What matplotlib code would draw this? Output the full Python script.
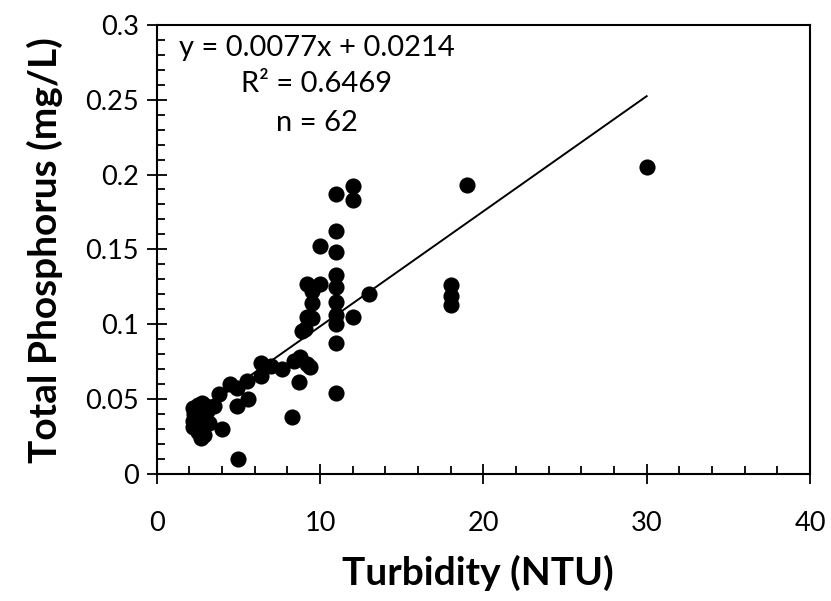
import numpy as np
import matplotlib
matplotlib.use('Agg')
import matplotlib.pyplot as plt
from matplotlib.ticker import MultipleLocator

plt.rcParams['font.family'] = ['Lato', 'DejaVu Sans']

# turbidity (NTU) vs total phosphorus (mg/L)
turbidity = [30, 19, 18, 18, 18, 13, 12, 12, 12,
             11, 11, 11, 11, 11, 11, 11, 11, 11, 11,
             10, 10,
             9.2, 9.5, 9.5, 9.2, 9.5, 9.1, 8.9,
             8.8, 9.2, 8.4, 9.4, 8.7, 8.3,
             7.7, 7.0, 6.4, 6.4,
             4.5, 4.9, 5.5, 5.6, 4.9, 5.0,
             3.8, 4.0,
             2.2, 2.5, 2.8, 3.0, 3.5, 2.3, 2.6, 3.1,
             2.2, 2.5, 2.9, 3.2, 2.2, 2.5, 2.7, 2.9]
phosphorus = [0.205, 0.193, 0.126, 0.119, 0.113, 0.120, 0.192, 0.183, 0.105,
              0.187, 0.162, 0.148, 0.133, 0.125, 0.115, 0.106, 0.100, 0.087, 0.054,
              0.152, 0.127,
              0.127, 0.122, 0.114, 0.105, 0.104, 0.097, 0.095,
              0.078, 0.073, 0.075, 0.071, 0.061, 0.038,
              0.070, 0.072, 0.074, 0.065,
              0.060, 0.057, 0.062, 0.050, 0.045, 0.010,
              0.053, 0.030,
              0.044, 0.046, 0.047, 0.045, 0.045, 0.040, 0.041, 0.042,
              0.035, 0.036, 0.037, 0.034, 0.031, 0.028, 0.024, 0.026]

slope = 0.0077
intercept = 0.0214
r2 = 0.6469

fig = plt.figure(figsize=(8.31, 6.01), dpi=100)
ax = fig.add_axes([0.1886, 0.2121, 0.7861, 0.7463])

ax.scatter(turbidity, phosphorus, s=135, color='black', zorder=3, linewidths=0)

xs = np.array([min(turbidity), max(turbidity)])
ax.plot(xs, slope * xs + intercept, color='black', lw=1.4, zorder=2)

ax.set_xlim(0, 40)
ax.set_ylim(0, 0.3)
ax.xaxis.set_major_locator(MultipleLocator(10))
ax.xaxis.set_minor_locator(MultipleLocator(2))
ax.yaxis.set_minor_locator(MultipleLocator(0.01))
ax.set_yticks([0, 0.05, 0.1, 0.15, 0.2, 0.25, 0.3])
ax.set_yticklabels(['0', '0.05', '0.1', '0.15', '0.2', '0.25', '0.3'])

ax.tick_params(which='major', direction='inout', length=14, width=1.3, labelsize=19.5)
ax.tick_params(axis='x', which='major', pad=20)
ax.tick_params(axis='y', which='major', pad=6)
ax.tick_params(which='minor', direction='in', length=6, width=1.3)
for sp in ax.spines.values():
    sp.set_linewidth(1.5)

ax.set_xlabel('Turbidity (NTU)', fontsize=28, fontweight='bold', va='center')
ax.set_ylabel('Total Phosphorus (mg/L)', fontsize=28, fontweight='bold', va='center')
ax.xaxis.set_label_coords(0.492, -0.222)
ax.yaxis.set_label_coords(-0.171, 0.498)

fig.text(0.381, 0.920, 'y = 0.0077x + 0.0214', fontsize=21, ha='center', va='center')
fig.text(0.381, 0.860, 'R² = %.4f' % r2, fontsize=21, ha='center', va='center')
fig.text(0.381, 0.795, 'n = %d' % len(turbidity), fontsize=21, ha='center', va='center')

fig.savefig('out.png', dpi=100)
